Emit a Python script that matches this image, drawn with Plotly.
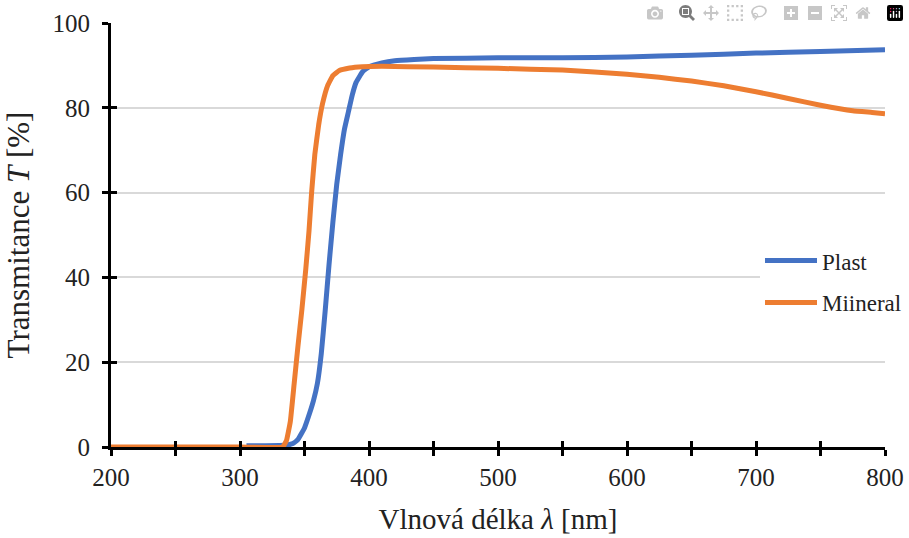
import plotly.graph_objects as go

# Data
plast_x = [305, 320, 335, 341, 345, 350, 354, 357, 360, 363, 366, 369, 372, 375, 378, 381, 384, 387,
           390, 395, 400, 410, 420, 435, 450, 500, 550, 600, 650, 700, 750, 800]
plast_y = [0.3, 0.3, 0.4, 0.8, 1.8, 4.5, 8, 11, 15, 22, 32, 43, 53, 62, 69, 75, 79, 83,
           86, 88.5, 89.7, 90.6, 91.1, 91.4, 91.6, 91.8, 91.8, 92.0, 92.4, 92.9, 93.3, 93.7]

mineral_x = [200, 250, 300, 333, 336, 339, 342, 345, 348, 351, 353.5, 355.5, 358, 361, 364, 368, 372,
             377, 385, 395, 410, 450, 500, 550, 600, 625, 650, 675, 700, 725, 750, 775, 790, 800]
mineral_y = [0, 0, 0, 0, 1.5, 6, 15, 24, 32.5, 42, 51, 60, 69, 76, 81, 85.3, 87.6,
             88.8, 89.4, 89.7, 89.8, 89.6, 89.3, 88.9, 87.9, 87.2, 86.3, 85.2, 83.8, 82.2, 80.6, 79.3, 78.9, 78.6]

x_ticks = [200, 250, 300, 350, 400, 450, 500, 550, 600, 650, 700, 750, 800]
x_labels = ["200", "", "300", "", "400", "", "500", "", "600", "", "700", "", "800"]
y_ticks = [0, 20, 40, 60, 80, 100]

FONT = "Liberation Serif"
TXT = "#222222"

fig = go.Figure()
fig.add_trace(go.Scatter(x=plast_x, y=plast_y, mode="lines", name="Plast", legendgroup="a",
                         line=dict(color="#4472C4", width=5, shape="spline", smoothing=0.3)))
fig.add_trace(go.Scatter(x=mineral_x, y=mineral_y, mode="lines", name="Miineral", legendgroup="b",
                         line=dict(color="#ED7D31", width=5, shape="spline", smoothing=0.3)))

fig.update_layout(
    width=909, height=538,
    margin=dict(l=111, r=24, t=23, b=91, autoexpand=False),
    paper_bgcolor="white", plot_bgcolor="white",
    font=dict(family=FONT, size=25, color=TXT),
    showlegend=True,
    legend=dict(x=0.8385, y=0.39, xanchor="left", yanchor="middle",
                bgcolor="white", font=dict(family=FONT, size=23, color=TXT),
                tracegroupgap=9, itemwidth=52),
    xaxis=dict(range=[200, 800], tickvals=x_ticks, ticktext=x_labels, automargin=False,
               showline=True, linecolor="black", linewidth=3,
               ticks="outside", ticklen=6, tickwidth=3, tickcolor="black",
               showgrid=False, zeroline=False,
               title=dict(text="Vlnová délka <i>λ</i> [nm]", font=dict(family=FONT, size=29, color=TXT), standoff=19),
               tickfont=dict(family=FONT, size=25, color=TXT)),
    yaxis=dict(range=[0, 100], tickvals=y_ticks, automargin=False,
               showline=True, linecolor="black", linewidth=3,
               ticks="outside", ticklen=6, tickwidth=3, tickcolor="black",
               ticklabelstandoff=7,
               showgrid=True, gridcolor="#D9D9D9", gridwidth=2, zeroline=False,
               title=dict(text="Transmitance <i>T</i> [%]", font=dict(family=FONT, size=31, color=TXT), standoff=14),
               tickfont=dict(family=FONT, size=25, color=TXT)),
    xaxis2=dict(range=[200, 800], tickvals=x_ticks, overlaying="x", anchor="y", automargin=False,
                side="bottom", ticks="inside", ticklen=6, tickwidth=3, tickcolor="black",
                showticklabels=False, showgrid=False, zeroline=False, showline=False),
    yaxis2=dict(range=[0, 100], tickvals=y_ticks, overlaying="y", anchor="x", automargin=False,
                side="left", ticks="inside", ticklen=6, tickwidth=3, tickcolor="black",
                showticklabels=False, showgrid=False, zeroline=False, showline=False),
)
# invisible trace to activate overlay axes
fig.add_trace(go.Scatter(x=[200], y=[0], xaxis="x2", yaxis="y2", mode="markers",
                         marker=dict(opacity=0), showlegend=False, hoverinfo="skip"))

# remove the browser's default page margin so the 909x538 figure fills the window exactly
fig.write_html("out.html",
               post_script="document.body.style.margin='0';document.body.style.overflow='hidden';")
